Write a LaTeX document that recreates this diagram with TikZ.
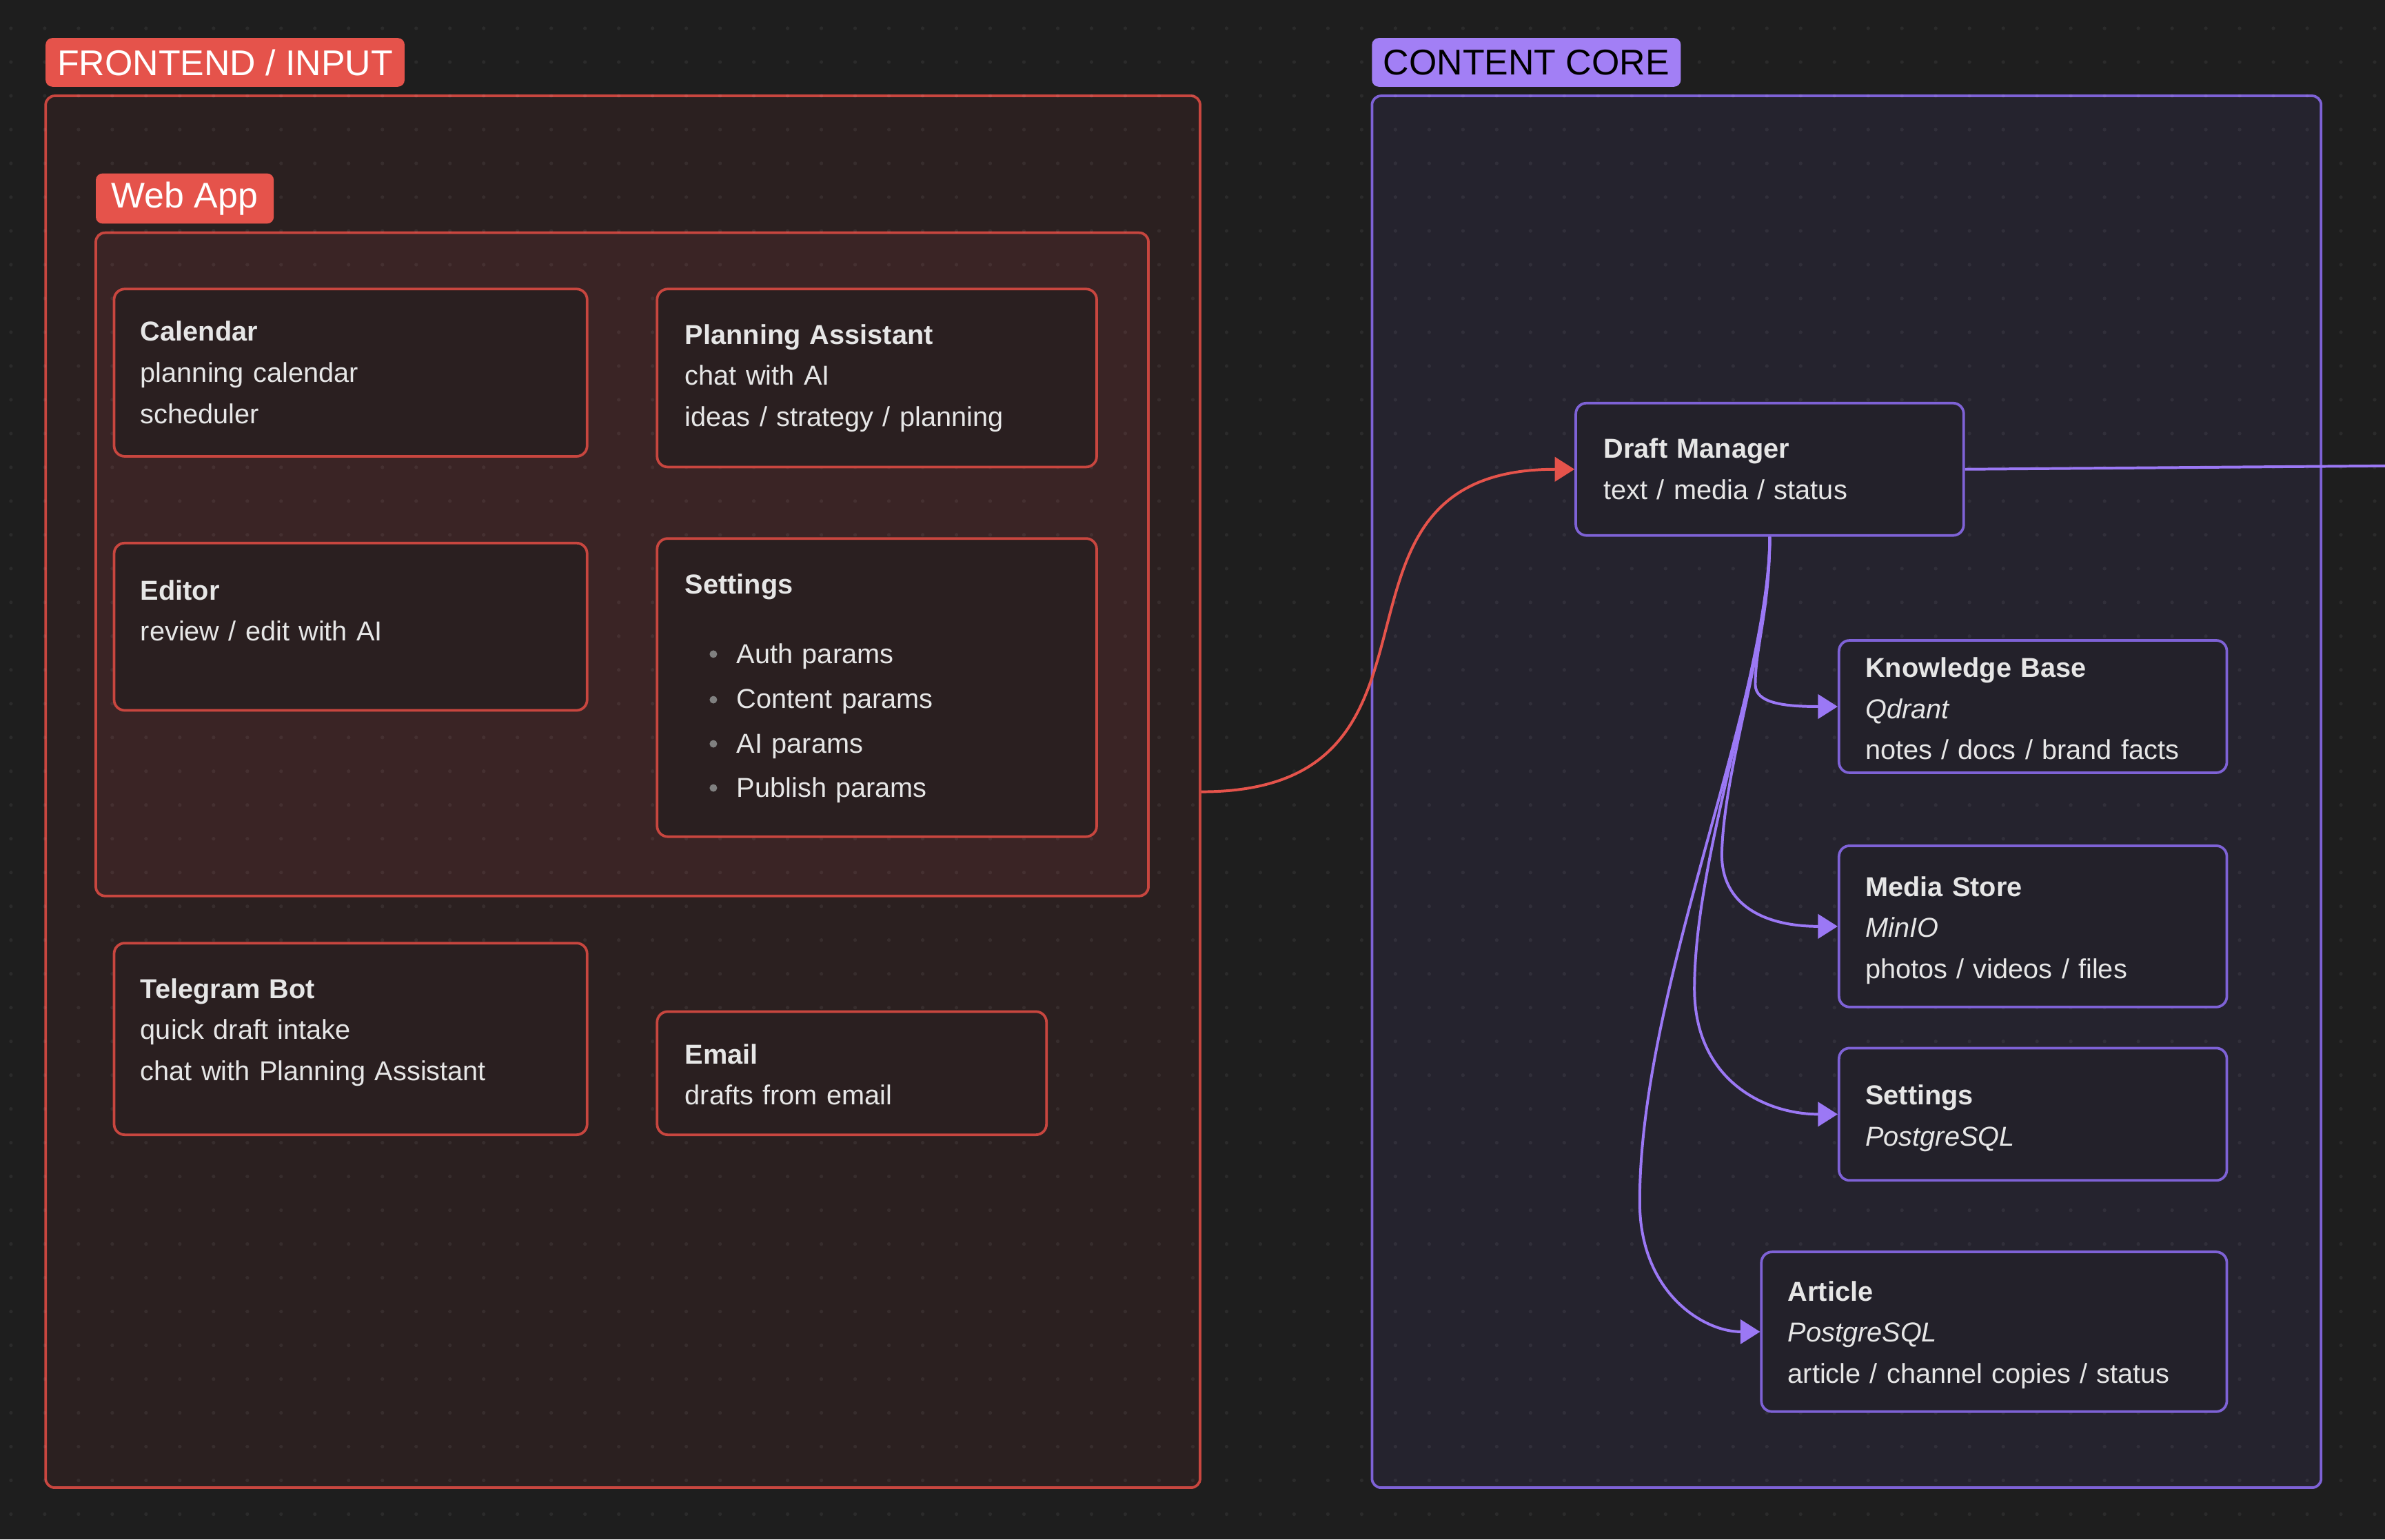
\documentclass[tikz,border=0pt]{standalone}
\usepackage{fontspec}
\setmainfont{Liberation Sans}
\usetikzlibrary{arrows.meta}
\definecolor{bgc}{HTML}{1E1E1E}
\definecolor{feout}{HTML}{2B2020}
\definecolor{feweb}{HTML}{3A2425}
\definecolor{redin}{HTML}{2A1F20}
\definecolor{redb}{HTML}{C8463F}
\definecolor{redlab}{HTML}{E5534B}
\definecolor{ccout}{HTML}{25232E}
\definecolor{purin}{HTML}{23212A}
\definecolor{purb}{HTML}{7E62D6}
\definecolor{purlab}{HTML}{A27FF5}
\definecolor{purline}{HTML}{9B78F5}
\definecolor{textc}{HTML}{E6E6E6}
\definecolor{bulletc}{HTML}{808080}
\newcommand{\mybox}[7]{\node[#6, minimum width={(#4-#2)*0.5pt}, minimum height={(#5-#3)*0.5pt}] (#1) at ({(#2+#4)/2},{(#3+#5)/2}) {#7};}
\begin{document}
\begin{tikzpicture}[x=0.5pt,y=-0.5pt,
  container/.style={line width=0.85pt, rounded corners=3pt, inner sep=0},
  redbox/.style={draw=redb, fill=redin, line width=0.85pt, rounded corners=3.5pt, inner sep=0},
  purbox/.style={draw=purb, fill=purin, line width=0.85pt, rounded corners=3.5pt, inner sep=0},
  lab/.style={rounded corners=2.2pt, inner sep=0, font=\fontsize{11.75}{14}\selectfont},
  txt/.style={text=textc, align=left, inner sep=0, text width=220pt, anchor=north west, font=\fontsize{9}{13.5}\selectfont},
  redline/.style={draw=redlab, line width=0.9pt, -{Triangle[length=6.5pt,width=8pt]}},
  pline/.style={draw=purline, line width=0.9pt, -{Triangle[length=6.5pt,width=8pt]}},
  dot/.style={fill=white, opacity=0.06}]
\useasboundingbox (0,0) rectangle (1568,1012);
\fill[bgc] (0,0) rectangle (1568,1012);
% containers
\mybox{fe}{30}{63}{789}{978}{container, draw=redb, fill=feout}{}
\mybox{web}{63}{153}{755}{589}{container, draw=redb, fill=feweb}{}
\mybox{cc}{902}{63}{1526}{978}{container, draw=purb, fill=ccout}{}
% dot grid
\foreach \i in {0,...,70}{\foreach \j in {0,...,45}{\fill[dot] ({7.2+22.2*\i},{18.6+22.2*\j}) circle (0.6pt);}}
% labels
\mybox{felab}{30}{25}{266}{57}{lab, fill=redlab, text=white}{FRONTEND / INPUT}
\mybox{weblab}{63}{114}{180}{147}{lab, fill=redlab, text=white}{Web App}
\mybox{cclab}{902}{25}{1105}{57}{lab, fill=purlab, text=black}{CONTENT CORE}
% frontend boxes
\mybox{cal}{75}{190}{386}{300}{redbox}{}
\mybox{pa}{432}{190}{721}{307}{redbox}{}
\mybox{ed}{75}{357}{386}{467}{redbox}{}
\mybox{set}{432}{354}{721}{550}{redbox}{}
\mybox{tg}{75}{620}{386}{746}{redbox}{}
\mybox{em}{432}{665}{688}{746}{redbox}{}
% content core boxes
\mybox{dm}{1036}{265}{1291}{352}{purbox}{}
\mybox{kb}{1209}{421}{1464}{508}{purbox}{}
\mybox{ms}{1209}{556}{1464}{662}{purbox}{}
\mybox{ps}{1209}{689}{1464}{776}{purbox}{}
\mybox{ar}{1158}{823}{1464}{928}{purbox}{}
% connectors
\coordinate (out) at (1600,306);
\draw[redline] (fe.east) .. controls +(184,0) and +(-184,0) .. (dm.west);
\draw[draw=purline, line width=0.9pt] (dm.east) -- (out);
\draw[pline] (dm.south) .. controls (1163.5,400) and (1154,425) .. (1154,450) .. controls (1154,462) and (1172,464.5) .. (kb.west);
\draw[pline] (dm.south) .. controls (1163.5,420) and (1134,500) .. (1132,560) .. controls (1131,595) and (1160,609) .. (ms.west);
\draw[pline] (dm.south) .. controls (1163.5,430) and (1114,560) .. (1114,650) .. controls (1114,710) and (1160,732.5) .. (ps.west);
\draw[pline] (dm.south) .. controls (1163.5,460) and (1078,650) .. (1078,790) .. controls (1078,850) and (1120,875.5) .. (ar.west);
% texts
\node[txt] (cal-t) at (92,205) {\strut\textbf{Calendar}\\planning calendar\\scheduler};
\node[txt] (pa-t) at (450,207) {\strut\textbf{Planning Assistant}\\chat with AI\\ideas / strategy / planning};
\node[txt] (ed-t) at (92,375) {\strut\textbf{Editor}\\review / edit with AI};
\node[txt] (set-t) at (450,371) {\strut\textbf{Settings}\\[9.5pt]\hspace*{17pt}Auth params\\[1.15pt]\hspace*{17pt}Content params\\[1.15pt]\hspace*{17pt}AI params\\[1.15pt]\hspace*{17pt}Publish params};
\foreach \yy in {430,460,489,518}{\fill[bulletc] (469,\yy) circle (1.25pt);}
\node[txt] (tg-t) at (92,637) {\strut\textbf{Telegram Bot}\\quick draft intake\\chat with Planning Assistant};
\node[txt] (em-t) at (450,680) {\strut\textbf{Email}\\drafts from email};
\node[txt] (dm-t) at (1054,282) {\strut\textbf{Draft Manager}\\text / media / status};
\node[txt] (kb-t) at (1226,426) {\strut\textbf{Knowledge Base}\\\textit{Qdrant}\\notes / docs / brand facts};
\node[txt] (ms-t) at (1226,570) {\strut\textbf{Media Store}\\\textit{MinIO}\\photos / videos / files};
\node[txt] (ps-t) at (1226,707) {\strut\textbf{Settings}\\\textit{PostgreSQL}};
\node[txt] (ar-t) at (1175,836) {\strut\textbf{Article}\\\textit{PostgreSQL}\\article / channel copies / status};
\end{tikzpicture}
\end{document}
